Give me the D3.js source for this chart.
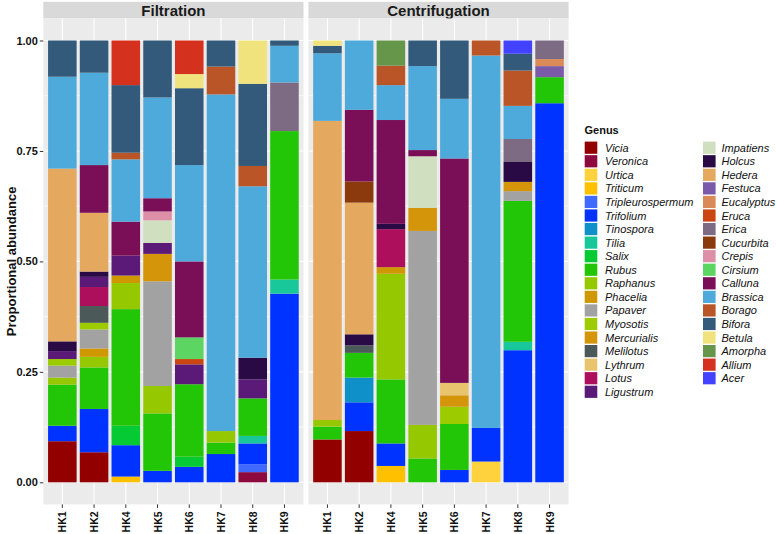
<!DOCTYPE html>
<html>
<head>
<meta charset="utf-8">
<script src="https://cdn.jsdelivr.net/npm/d3@7"></script>
<style>
  html, body { margin: 0; padding: 0; background: #fff; }
  svg { display: block; font-family: "Liberation Sans", Arial, Helvetica, sans-serif; }
</style>
</head>
<body>
<svg id="chart" width="777" height="534"></svg>
<script>
// ---------------- DATA ----------------
const samples = ["HK1", "HK2", "HK4", "HK5", "HK6", "HK7", "HK8", "HK9"];
const methods = ["Filtration", "Centrifugation"];
const yTicks = [0, 0.25, 0.5, 0.75, 1];

// legend order (top to bottom); stacking bottom-to-top follows this order
const genera = ["Vicia","Veronica","Urtica","Triticum","Tripleurospermum","Trifolium","Tinospora","Tilia","Salix","Rubus",
  "Raphanus","Phacelia","Papaver","Myosotis","Mercurialis","Melilotus","Lythrum","Lotus","Ligustrum",
  "Impatiens","Holcus","Hedera","Festuca","Eucalyptus","Eruca","Erica","Cucurbita","Crepis","Cirsium",
  "Calluna","Brassica","Borago","Bifora","Betula","Amorpha","Allium","Acer"];
const genusColors = ["#930000","#8E0A3E","#FDD23C","#FFC000","#4069FF","#0033FF","#1090C8","#19C89A","#05CA33","#22C607",
  "#96C800","#CF9800","#A2A2A2","#9CCB00","#D4950A","#4B5958","#E9C46E","#AD0F5C","#5B1A78",
  "#CFDFBF","#2A0A44","#E5A85F","#7B5AAA","#DA8A57","#CB4513","#7C6B83","#8A3A0C","#DC8FA6","#5DD563",
  "#7A0F57","#4FAADC","#B95526","#335A7A","#F0E37E","#66964A","#D4321E","#4343FF"];

// Filtration
const filtrationHK1 = [["Vicia",0.093],["Trifolium",0.035],["Rubus",0.093],["Raphanus",0.016],["Papaver",0.027],["Myosotis",0.015],["Ligustrum",0.018],["Holcus",0.022],["Hedera",0.391],["Brassica",0.208],["Bifora",0.082]];
const filtrationHK2 = [["Vicia",0.068],["Trifolium",0.098],["Rubus",0.094],["Raphanus",0.024],["Phacelia",0.019],["Papaver",0.043],["Myosotis",0.015],["Melilotus",0.038],["Lotus",0.043],["Ligustrum",0.023],["Holcus",0.012],["Hedera",0.133],["Calluna",0.108],["Brassica",0.209],["Bifora",0.073]];
const filtrationHK4 = [["Triticum",0.013],["Trifolium",0.071],["Salix",0.044],["Rubus",0.264],["Raphanus",0.059],["Phacelia",0.017],["Ligustrum",0.045],["Calluna",0.077],["Brassica",0.141],["Borago",0.015],["Bifora",0.153],["Allium",0.101]];
const filtrationHK5 = [["Trifolium",0.026],["Rubus",0.130],["Raphanus",0.062],["Papaver",0.237],["Mercurialis",0.062],["Ligustrum",0.025],["Impatiens",0.051],["Crepis",0.020],["Calluna",0.030],["Brassica",0.228],["Bifora",0.129]];
const filtrationHK6 = [["Trifolium",0.035],["Salix",0.023],["Rubus",0.164],["Ligustrum",0.045],["Eruca",0.012],["Cirsium",0.049],["Calluna",0.172],["Brassica",0.218],["Bifora",0.174],["Betula",0.032],["Allium",0.076]];
const filtrationHK7 = [["Trifolium",0.064],["Rubus",0.026],["Raphanus",0.026],["Brassica",0.762],["Borago",0.063],["Bifora",0.059]];
const filtrationHK8 = [["Veronica",0.023],["Tripleurospermum",0.018],["Trifolium",0.047],["Tilia",0.017],["Rubus",0.085],["Ligustrum",0.043],["Holcus",0.049],["Brassica",0.388],["Borago",0.046],["Bifora",0.186],["Betula",0.098]];
const filtrationHK9 = [["Trifolium",0.427],["Tilia",0.032],["Rubus",0.336],["Erica",0.110],["Brassica",0.083],["Bifora",0.012]];

// Centrifugation
const centrifugationHK1 = [["Vicia",0.097],["Rubus",0.029],["Raphanus",0.015],["Hedera",0.677],["Brassica",0.153],["Bifora",0.017],["Betula",0.012]];
const centrifugationHK2 = [["Vicia",0.116],["Trifolium",0.065],["Tinospora",0.056],["Rubus",0.056],["Melilotus",0.017],["Holcus",0.025],["Hedera",0.298],["Cucurbita",0.048],["Calluna",0.162],["Brassica",0.157]];
const centrifugationHK4 = [["Triticum",0.037],["Trifolium",0.051],["Rubus",0.145],["Raphanus",0.239],["Phacelia",0.015],["Lotus",0.086],["Holcus",0.012],["Calluna",0.235],["Brassica",0.079],["Borago",0.044],["Amorpha",0.057]];
const centrifugationHK5 = [["Rubus",0.054],["Raphanus",0.076],["Papaver",0.439],["Mercurialis",0.052],["Impatiens",0.117],["Calluna",0.014],["Brassica",0.190],["Bifora",0.058]];
const centrifugationHK6 = [["Trifolium",0.028],["Rubus",0.104],["Myosotis",0.039],["Mercurialis",0.026],["Lythrum",0.028],["Calluna",0.508],["Brassica",0.135],["Bifora",0.132]];
const centrifugationHK7 = [["Urtica",0.047],["Trifolium",0.076],["Brassica",0.843],["Borago",0.034]];
const centrifugationHK8 = [["Trifolium",0.299],["Tilia",0.019],["Rubus",0.319],["Papaver",0.022],["Mercurialis",0.021],["Holcus",0.045],["Erica",0.052],["Brassica",0.075],["Borago",0.080],["Bifora",0.038],["Acer",0.030]];
const centrifugationHK9 = [["Trifolium",0.858],["Rubus",0.059],["Festuca",0.025],["Eucalyptus",0.016],["Erica",0.042]];

const bars = {
  Filtration: [filtrationHK1, filtrationHK2, filtrationHK4, filtrationHK5, filtrationHK6, filtrationHK7, filtrationHK8, filtrationHK9],
  Centrifugation: [centrifugationHK1, centrifugationHK2, centrifugationHK4, centrifugationHK5, centrifugationHK6, centrifugationHK7, centrifugationHK8, centrifugationHK9]
};

// ---------------- LAYOUT ----------------
const svg = d3.select("#chart");
const color = d3.scaleOrdinal().domain(genera).range(genusColors);
const panelTop = 18.4, panelBottom = 504.4;
const y = d3.scaleLinear().domain([-0.05, 1.05]).range([panelBottom, panelTop]);
const panels = [{x0: 43.3, x1: 303.5}, {x0: 308.4, x1: 568.6}];
const stripTop = 1.8;

methods.forEach((m, pi) => {
  const p = panels[pi];
  const x = d3.scaleBand().domain(samples).range([p.x0, p.x1]).paddingInner(0.1).paddingOuter(0.15);
  const g = svg.append("g");

  // strip
  g.append("rect").attr("x", p.x0).attr("y", stripTop).attr("width", p.x1 - p.x0).attr("height", panelTop - stripTop)
    .attr("fill", "#D9D9D9");
  g.append("text").attr("x", (p.x0 + p.x1) / 2).attr("y", (stripTop + panelTop) / 2 + 0.5)
    .attr("text-anchor", "middle").attr("dominant-baseline", "central")
    .attr("font-size", 15).attr("font-weight", "bold").attr("fill", "#1A1A1A").text(m);

  // panel bg
  g.append("rect").attr("x", p.x0).attr("y", panelTop).attr("width", p.x1 - p.x0).attr("height", panelBottom - panelTop)
    .attr("fill", "#EBEBEB");
  // minor grid
  [0.125, 0.375, 0.625, 0.875].forEach(v => {
    g.append("line").attr("x1", p.x0).attr("x2", p.x1).attr("y1", y(v)).attr("y2", y(v))
      .attr("stroke", "#fff").attr("stroke-width", 0.6);
  });
  yTicks.forEach(v => {
    g.append("line").attr("x1", p.x0).attr("x2", p.x1).attr("y1", y(v)).attr("y2", y(v))
      .attr("stroke", "#fff").attr("stroke-width", 1.1);
  });
  samples.forEach(s => {
    const cx = x(s) + x.bandwidth() / 2;
    g.append("line").attr("x1", cx).attr("x2", cx).attr("y1", panelTop).attr("y2", panelBottom)
      .attr("stroke", "#fff").attr("stroke-width", 1.1);
  });

  // stacked bars
  bars[m].forEach((segs, i) => {
    const sorted = segs.slice().sort((a, b) => genera.indexOf(a[0]) - genera.indexOf(b[0]));
    let cum = 0;
    sorted.forEach(([gen, val]) => {
      const y0 = cum, y1 = cum + val;
      cum = y1;
      g.append("rect").attr("x", x(samples[i])).attr("width", x.bandwidth())
        .attr("y", y(y1)).attr("height", y(y0) - y(y1))
        .attr("fill", color(gen));
    });
  });

  // x axis
  const xAxis = d3.axisBottom(x).tickSize(3.5).tickPadding(3);
  const xg = g.append("g").attr("transform", `translate(0,${panelBottom})`).call(xAxis);
  xg.select(".domain").remove();
  xg.selectAll(".tick line").attr("stroke", "#333");
  xg.selectAll(".tick text").attr("font-size", 10.5).attr("font-weight", "bold").attr("fill", "#111")
    .attr("font-family", "'Liberation Sans', Arial, sans-serif")
    .attr("text-anchor", "end").attr("dominant-baseline", "central")
    .attr("transform", "rotate(-90)").attr("x", -7).attr("y", 0).attr("dy", null);

  // y axis only on first panel
  if (pi === 0) {
    const yAxis = d3.axisLeft(y).tickValues(yTicks).tickFormat(d3.format(".2f")).tickSize(3.5).tickPadding(2);
    const yg = g.append("g").attr("transform", `translate(${p.x0},0)`).call(yAxis);
    yg.select(".domain").remove();
    yg.selectAll(".tick line").attr("stroke", "#333");
    yg.selectAll(".tick text").attr("font-size", 11).attr("font-weight", "bold").attr("fill", "#111")
      .attr("font-family", "'Liberation Sans', Arial, sans-serif");
  }
});

// y axis title
svg.append("text").attr("transform", `translate(11,${(panelTop + panelBottom) / 2}) rotate(-90)`)
  .attr("text-anchor", "middle").attr("dominant-baseline", "central")
  .attr("font-size", 13).attr("font-weight", "bold").attr("fill", "#111").text("Proportional abundance");

// ---------------- LEGEND ----------------
const leg = svg.append("g");
leg.append("text").attr("x", 584.5).attr("y", 134).attr("font-size", 11).attr("font-weight", "bold")
  .attr("fill", "#111").text("Genus");
const perCol = Math.ceil(genera.length / 2);
const rowH = 13.56, keyW = 12.6, keyH = 12.2, row0 = 147.7;
const colKeyX = [584.7, 703], colTextX = [605, 721.5];
genera.forEach((gen, i) => {
  const c = Math.floor(i / perCol), r = i % perCol;
  const cy = row0 + r * rowH;
  leg.append("rect").attr("x", colKeyX[c]).attr("y", cy - keyH / 2).attr("width", keyW).attr("height", keyH)
    .attr("fill", color(gen));
  leg.append("text").attr("x", colTextX[c]).attr("y", cy).attr("dominant-baseline", "central")
    .attr("font-size", 11).attr("font-style", "italic").attr("fill", "#111").text(gen);
});
</script>
</body>
</html>
